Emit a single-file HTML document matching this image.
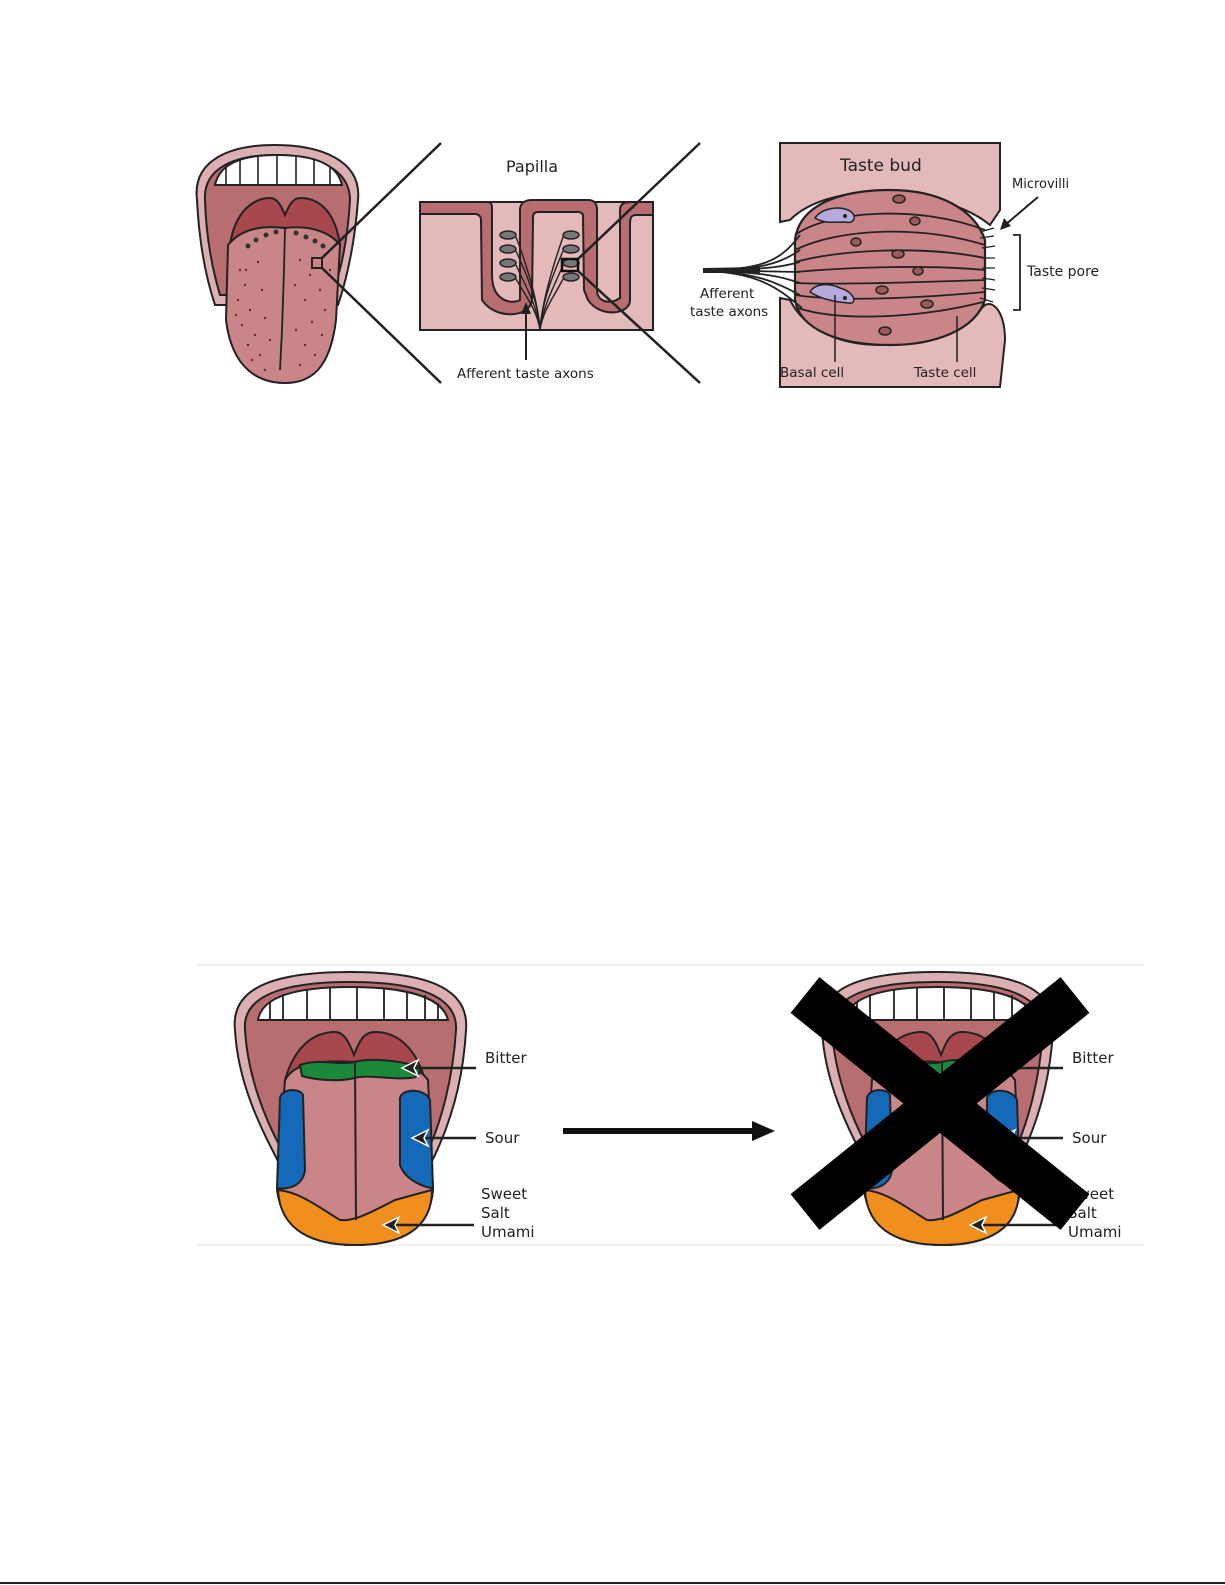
<!DOCTYPE html>
<html><head><meta charset="utf-8"><style>
html,body{margin:0;padding:0;background:#fff}
svg{display:block}
text{font-family:"DejaVu Sans","Liberation Sans",sans-serif;fill:#222}
</style></head><body>
<svg width="1225" height="1585" viewBox="0 0 1225 1585" xmlns="http://www.w3.org/2000/svg">
<defs>
<g id="tongueB">
  <path d="M235,1030 C230,985 280,972 350,972 C420,972 470,985 466,1030 C463,1085 448,1130 430,1165 L280,1165 C262,1130 238,1085 235,1030 Z" fill="#dcb0b2" stroke="#222" stroke-width="2"/>
  <path d="M245,1030 C242,995 285,982 350,982 C415,982 458,995 456,1030 C453,1080 440,1125 428,1150 L282,1150 C268,1125 248,1080 245,1030 Z" fill="#b86d70" stroke="#222" stroke-width="2"/>
  <path d="M258,1020 C262,995 300,987 350,987 C400,987 442,995 448,1020 Z" fill="#fff" stroke="#222" stroke-width="2"/>
  <g stroke="#222" stroke-width="1.8"><line x1="270" y1="1002" x2="270" y2="1020"/><line x1="283" y1="994" x2="283" y2="1020"/><line x1="307" y1="990" x2="307" y2="1020"/><line x1="330" y1="988" x2="330" y2="1020"/><line x1="357" y1="988" x2="357" y2="1020"/><line x1="384" y1="989" x2="384" y2="1020"/><line x1="407" y1="991" x2="407" y2="1020"/><line x1="425" y1="995" x2="425" y2="1020"/><line x1="438" y1="1003" x2="438" y2="1020"/></g>
  <path d="M285,1080 C295,1045 315,1032 335,1032 C345,1032 350,1045 354,1055 C358,1045 362,1032 375,1032 C395,1032 415,1045 425,1080 Z" fill="#a8484e" stroke="#222" stroke-width="2"/>
  <path d="M285,1080 C295,1062 320,1060 354,1062 C390,1060 415,1062 428,1080 L433,1190 C430,1230 395,1245 355,1245 C315,1245 282,1230 277,1190 Z" fill="#c98588" stroke="#222" stroke-width="2"/>
  <path d="M300,1065 C320,1058 340,1066 354,1062 C370,1058 395,1060 418,1066 C422,1072 418,1078 410,1078 C390,1080 370,1074 354,1078 C340,1082 315,1080 302,1076 Z" fill="#1a8a3a" stroke="#222" stroke-width="2"/>
  <path d="M280,1098 C282,1088 300,1088 303,1095 L305,1170 C303,1185 290,1190 277,1188 Z" fill="#1469b8" stroke="#222" stroke-width="2"/>
  <path d="M400,1098 C402,1088 425,1088 430,1100 L433,1188 C425,1188 405,1180 400,1165 Z" fill="#1469b8" stroke="#222" stroke-width="2"/>
  <path d="M278,1190 C300,1192 320,1208 340,1220 C355,1222 375,1210 395,1200 C410,1196 420,1193 432,1190 C432,1230 400,1245 355,1245 C315,1245 280,1232 278,1190 Z" fill="#f08e1e" stroke="#222" stroke-width="2"/>
  <line x1="355" y1="1063" x2="356" y2="1220" stroke="#222" stroke-width="2"/>
  <g stroke="#222" stroke-width="2.5"><line x1="410" y1="1068" x2="476" y2="1068"/><line x1="420" y1="1138" x2="476" y2="1138"/><line x1="392" y1="1225" x2="474" y2="1225"/></g>
  <path d="M402,1068 L418,1060 L414,1068 L418,1076 Z" fill="#222" stroke="#fff" stroke-width="1.5"/>
  <path d="M412,1138 L428,1130 L424,1138 L428,1146 Z" fill="#222" stroke="#fff" stroke-width="1.5"/>
  <path d="M383,1225 L399,1217 L395,1225 L399,1233 Z" fill="#222" stroke="#fff" stroke-width="1.5"/>
</g>
</defs>

<!-- top tongue -->
<path d="M197,200 C192,160 230,145 275,145 C320,145 362,160 358,200 C355,240 348,275 338,305 L215,305 C205,275 199,240 197,200 Z" fill="#dcb0b2" stroke="#222" stroke-width="2"/>
<path d="M205,200 C203,168 235,155 275,155 C315,155 350,168 350,200 C348,235 342,268 332,295 L220,295 C212,268 206,235 205,200 Z" fill="#b86d70" stroke="#222" stroke-width="2"/>
<path d="M215,185 C220,162 245,155 277,155 C310,155 337,162 342,185 Z" fill="#fff" stroke="#222" stroke-width="2"/>
<g stroke="#222" stroke-width="1.6"><line x1="226" y1="166" x2="226" y2="185"/><line x1="240" y1="160" x2="240" y2="185"/><line x1="258" y1="157" x2="258" y2="185"/><line x1="277" y1="156" x2="277" y2="185"/><line x1="296" y1="157" x2="296" y2="185"/><line x1="314" y1="160" x2="314" y2="185"/><line x1="330" y1="166" x2="330" y2="185"/></g>
<path d="M230,245 C235,210 255,198 270,198 C278,198 282,208 285,215 C288,208 292,198 300,198 C318,198 335,210 340,245 Z" fill="#a8484e" stroke="#222" stroke-width="2"/>
<path d="M228,245 C240,230 260,225 285,228 C310,225 330,232 340,245 L336,320 C330,370 310,383 285,383 C260,383 232,370 226,320 Z" fill="#c98588" stroke="#222" stroke-width="2"/>
<path d="M285,228 L284,270 L282,330 L280,370" stroke="#222" stroke-width="1.8" fill="none"/>
<g fill="#333"><circle cx="248" cy="246" r="2.5"/><circle cx="256" cy="240" r="2.5"/><circle cx="266" cy="235" r="2.5"/><circle cx="276" cy="232" r="2.5"/><circle cx="296" cy="233" r="2.5"/><circle cx="306" cy="237" r="2.5"/><circle cx="315" cy="241" r="2.5"/><circle cx="323" cy="246" r="2.5"/></g>
<g fill="#6b2a2e">
<circle cx="240" cy="270" r="1.2"/><circle cx="245" cy="285" r="1.2"/><circle cx="238" cy="300" r="1.2"/><circle cx="250" cy="310" r="1.2"/><circle cx="242" cy="325" r="1.2"/><circle cx="255" cy="335" r="1.2"/><circle cx="248" cy="345" r="1.2"/><circle cx="260" cy="355" r="1.2"/><circle cx="252" cy="360" r="1.2"/><circle cx="265" cy="370" r="1.2"/><circle cx="258" cy="262" r="1.2"/><circle cx="262" cy="290" r="1.2"/><circle cx="265" cy="318" r="1.2"/><circle cx="270" cy="340" r="1.2"/><circle cx="236" cy="315" r="1.2"/><circle cx="246" cy="270" r="1.2"/>
<circle cx="300" cy="260" r="1.2"/><circle cx="310" cy="275" r="1.2"/><circle cx="320" cy="290" r="1.2"/><circle cx="305" cy="300" r="1.2"/><circle cx="325" cy="310" r="1.2"/><circle cx="312" cy="322" r="1.2"/><circle cx="322" cy="335" r="1.2"/><circle cx="305" cy="345" r="1.2"/><circle cx="315" cy="355" r="1.2"/><circle cx="300" cy="365" r="1.2"/><circle cx="295" cy="285" r="1.2"/><circle cx="330" cy="270" r="1.2"/><circle cx="296" cy="330" r="1.2"/><circle cx="318" cy="370" r="1.2"/>
</g>
<rect x="312" y="258" width="10" height="10" fill="none" stroke="#222" stroke-width="2"/>
<line x1="322" y1="258" x2="441" y2="143" stroke="#222" stroke-width="2.5"/>
<line x1="322" y1="268" x2="441" y2="383" stroke="#222" stroke-width="2.5"/>

<!-- Papilla -->
<text x="506" y="172" font-size="16">Papilla</text>
<rect x="420" y="202" width="233" height="128" fill="#e4b9ba" stroke="#222" stroke-width="2"/>
<path d="M420,202 L488,202 C492,202 492,206 492,210 L492,275 C492,300 510,305 520,300 L520,210 C520,203 525,200 532,200 L588,200 C594,200 597,203 597,210 L597,290 C597,302 610,305 620,298 L620,210 C620,203 625,202 632,202 L653,202 L653,215 L636,215 C630,215 630,220 630,225 L630,300 C630,315 600,318 588,300 L584,290 L583,216 C583,213 580,212 578,212 L538,212 C535,212 533,214 533,217 L532,300 C530,318 495,320 482,300 L481,220 C481,216 478,214 475,214 L420,214 Z" fill="#b86d70" stroke="#222" stroke-width="2"/>
<g fill="#777" stroke="#222" stroke-width="1.5">
<ellipse cx="508" cy="235" rx="8" ry="4"/><ellipse cx="508" cy="249" rx="8" ry="4"/><ellipse cx="508" cy="263" rx="8" ry="4"/><ellipse cx="508" cy="277" rx="8" ry="4"/>
<ellipse cx="571" cy="235" rx="8" ry="4"/><ellipse cx="571" cy="249" rx="8" ry="4"/><ellipse cx="571" cy="263" rx="8" ry="4"/><ellipse cx="571" cy="277" rx="8" ry="4"/>
</g>
<g stroke="#222" stroke-width="1.4" fill="none">
<path d="M540,330 C538,300 525,260 516,237"/><path d="M540,330 C538,300 525,270 516,251"/><path d="M540,330 C537,305 525,285 516,265"/><path d="M540,330 C537,310 525,295 516,279"/>
<path d="M540,330 C542,300 555,260 563,237"/><path d="M540,330 C542,300 555,270 563,251"/><path d="M540,330 C543,305 555,285 563,265"/><path d="M540,330 C543,310 555,295 563,279"/>
</g>
<rect x="562" y="259" width="16" height="12" fill="none" stroke="#111" stroke-width="2.5"/>
<line x1="578" y1="259" x2="700" y2="143" stroke="#222" stroke-width="2.5"/>
<line x1="578" y1="271" x2="700" y2="383" stroke="#222" stroke-width="2.5"/>
<line x1="526" y1="360" x2="526" y2="310" stroke="#222" stroke-width="2"/>
<path d="M526,302 L521,314 L531,314 Z" fill="#222"/>
<text x="457" y="378" font-size="13.5">Afferent taste axons</text>

<!-- Taste bud -->
<path d="M780,143 L1000,143 L1000,210 L990,225 C960,200 900,190 860,193 C820,197 800,210 790,220 L780,222 Z" fill="#e4b9ba" stroke="#222" stroke-width="2"/>
<path d="M780,298 L790,300 C805,330 840,345 880,345 C930,345 960,330 985,305 C995,300 1005,315 1005,340 L1000,387 L780,387 Z" fill="#e4b9ba" stroke="#222" stroke-width="2"/>
<path d="M795,240 C800,200 850,190 890,190 C940,190 975,210 985,240 L985,300 C975,330 935,345 890,345 C840,345 800,330 795,300 Z" fill="#c98588" stroke="#222" stroke-width="2.2"/>
<g stroke="#222" stroke-width="1.8" fill="none">
<path d="M795,235 C830,210 920,205 985,230"/><path d="M795,250 C840,228 920,225 985,245"/><path d="M795,262 C840,250 920,245 985,258"/><path d="M795,272 C840,268 920,264 985,270"/><path d="M795,283 C840,285 920,282 985,280"/><path d="M795,295 C840,302 920,298 985,292"/><path d="M798,308 C840,322 920,318 983,302"/>
<path d="M703,270 C760,270 780,262 800,235"/><path d="M703,270 C760,270 780,264 800,250"/><path d="M703,270 C770,270 785,266 800,262"/><path d="M703,270 L800,272"/><path d="M703,271 C770,272 785,278 800,283"/><path d="M703,271 C760,272 780,285 800,295"/><path d="M703,271 C760,272 780,290 802,308"/>
</g>
<path d="M703,268 L760,267 L760,273 L703,273 Z" fill="#222"/>
<g stroke="#222" stroke-width="1.3"><path d="M980,232 L994,228 M980,238 L994,236 M982,248 L995,246 M982,258 L995,258 M982,268 L995,268 M982,278 L995,280 M982,288 L995,290 M980,298 L993,302"/></g>
<path d="M815,218 C822,208 838,206 848,210 C858,214 855,225 845,222 C835,222 825,224 815,218 Z" fill="#b6a9dd" stroke="#222" stroke-width="1.5"/>
<circle cx="845" cy="216" r="2" fill="#222"/>
<path d="M810,292 C815,283 830,283 840,288 C855,292 858,305 848,303 C838,302 822,300 810,292 Z" fill="#b6a9dd" stroke="#222" stroke-width="1.5"/>
<circle cx="845" cy="298" r="2" fill="#222"/>
<g fill="#9a5a5c" stroke="#222" stroke-width="1.5">
<ellipse cx="899" cy="199" rx="6" ry="4"/><ellipse cx="915" cy="221" rx="5" ry="4"/><ellipse cx="856" cy="242" rx="5" ry="4"/><ellipse cx="898" cy="254" rx="6" ry="4"/><ellipse cx="918" cy="271" rx="5" ry="4"/><ellipse cx="882" cy="290" rx="6" ry="4"/><ellipse cx="927" cy="304" rx="6" ry="4"/><ellipse cx="885" cy="331" rx="6" ry="4"/>
</g>
<line x1="835" y1="295" x2="835" y2="362" stroke="#222" stroke-width="1.5"/>
<line x1="957" y1="316" x2="957" y2="362" stroke="#222" stroke-width="1.5"/>
<text x="840" y="171" font-size="17">Taste bud</text>
<text x="1012" y="188" font-size="13">Microvilli</text>
<line x1="1038" y1="197" x2="1005" y2="225" stroke="#222" stroke-width="2"/>
<path d="M1000,230 L1004,218 L1011,226 Z" fill="#222"/>
<path d="M1013,235 L1020,235 L1020,310 L1013,310" fill="none" stroke="#222" stroke-width="1.8"/>
<text x="1027" y="276" font-size="14">Taste pore</text>
<text x="700" y="298" font-size="13.5">Afferent</text>
<text x="690" y="316" font-size="13.5">taste axons</text>
<text x="780" y="377" font-size="13.5">Basal cell</text>
<text x="914" y="377" font-size="13.5">Taste cell</text>

<!-- bottom -->
<line x1="195" y1="965" x2="1145" y2="965" stroke="#e4e4e4" stroke-width="1"/>
<line x1="195" y1="1245" x2="1145" y2="1245" stroke="#e4e4e4" stroke-width="1"/>
<use href="#tongueB"/>
<text x="485" y="1063" font-size="15">Bitter</text>
<text x="485" y="1143" font-size="15">Sour</text>
<text x="481" y="1199" font-size="15">Sweet</text>
<text x="481" y="1218" font-size="15">Salt</text>
<text x="481" y="1237" font-size="15">Umami</text>
<line x1="563" y1="1131" x2="755" y2="1131" stroke="#111" stroke-width="6"/>
<path d="M775,1131 L752,1121 L752,1141 Z" fill="#111"/>
<use href="#tongueB" transform="translate(587,0)"/>
<text x="1072" y="1063" font-size="15">Bitter</text>
<text x="1072" y="1143" font-size="15">Sour</text>
<text x="1068" y="1199" font-size="15">Sweet</text>
<text x="1068" y="1218" font-size="15">Salt</text>
<text x="1068" y="1237" font-size="15">Umami</text>
<line x1="805" y1="995" x2="1075" y2="1212" stroke="#000" stroke-width="46"/>
<line x1="1075" y1="995" x2="805" y2="1212" stroke="#000" stroke-width="46"/>

<line x1="0" y1="1583" x2="1225" y2="1583" stroke="#222" stroke-width="2"/>
</svg>
</body></html>
